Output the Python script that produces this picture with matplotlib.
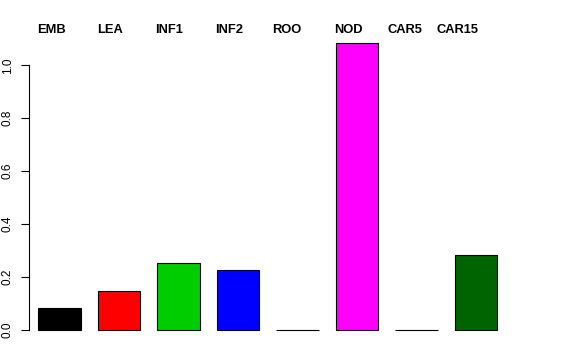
import numpy as np
import matplotlib
matplotlib.use("Agg")
from matplotlib import pyplot as plt
import matplotlib.transforms as mtransforms

tissues = ['EMB', 'LEA', 'INF1', 'INF2', 'ROO', 'NOD', 'CAR5', 'CAR15']
values = [0.083, 0.147, 0.253, 0.226, 0.0, 1.083, 0.0, 0.283]
colors = ['black', 'red', '#00CD00', 'blue', 'cyan', 'magenta', 'yellow', '#006400']
# where the names were put along the top (in bar units)
label_at = [0.71, 2.09, 3.47, 4.88, 6.25, 7.69, 9.03, 10.25]

plt.rcParams['font.family'] = ['Liberation Sans', 'DejaVu Sans']

fig = plt.figure(figsize=(5.76, 3.6), dpi=100)
ax = fig.add_axes([29 / 576, 19 / 360, (540 - 29) / 576, (341 - 32) / 360])

n = len(values)
pos = 0.9 + 1.4 * np.arange(n)
ax.bar(pos, values, width=1.0, color=colors, edgecolor='black', linewidth=0.8)

ax.set_xlim(0.18, 12.2)
ax.set_ylim(-0.0433, 1.126)

for s in ['top', 'right', 'bottom']:
    ax.spines[s].set_visible(False)
ax.spines['left'].set_bounds(0, 1.0)
ax.spines['left'].set_linewidth(0.8)
ax.set_xticks([])
ax.set_yticks([0, 0.2, 0.4, 0.6, 0.8, 1.0])
ax.set_yticklabels(['0.0', '0.2', '0.4', '0.6', '0.8', '1.0'], rotation=90, va='center')
ax.tick_params(axis='y', length=6, width=0.8, labelsize=8.5, pad=5)

# tissue names across the top
trans = mtransforms.blended_transform_factory(ax.transData, ax.transAxes)
for x, name in zip(label_at, tissues):
    ax.text(x, 1.006, name, transform=trans, ha='center', va='center',
            fontsize=9.3, fontweight='bold')

fig.savefig('out.png', dpi=100)
